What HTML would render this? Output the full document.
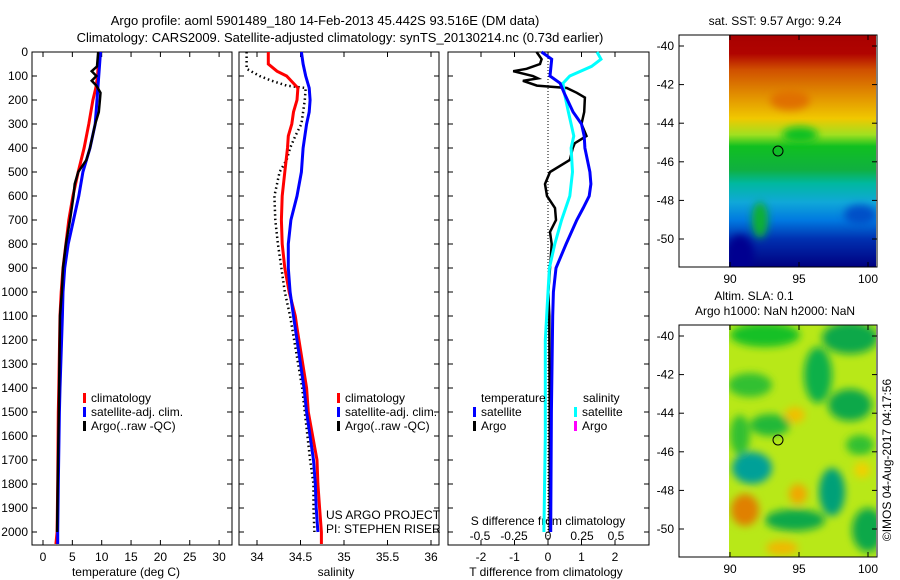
<!DOCTYPE html>
<html><head><meta charset="utf-8"><style>
html,body{margin:0;padding:0;background:#fff;}
svg{display:block;font-family:"Liberation Sans",sans-serif;font-size:12px;}
</style></head><body>
<svg id="c" width="900" height="580" viewBox="0 0 900 580">
<defs>
<linearGradient id="sstg" x1="0" y1="0" x2="0" y2="1">
<stop offset="0" stop-color="#a80000"/><stop offset="0.08" stop-color="#b00400"/>
<stop offset="0.15" stop-color="#d05000"/><stop offset="0.25" stop-color="#e08a00"/>
<stop offset="0.36" stop-color="#f0c800"/><stop offset="0.43" stop-color="#a0e020"/>
<stop offset="0.48" stop-color="#10c020"/><stop offset="0.58" stop-color="#10b040"/>
<stop offset="0.64" stop-color="#00b8a0"/><stop offset="0.72" stop-color="#10a8d8"/>
<stop offset="0.8" stop-color="#0078e0"/><stop offset="0.88" stop-color="#0030b0"/>
<stop offset="1" stop-color="#000080"/></linearGradient>
<filter id="bl" x="-50%" y="-50%" width="200%" height="200%"><feGaussianBlur stdDeviation="4"/></filter>
<clipPath id="m2c"><rect x="729" y="325" width="147" height="232"/></clipPath>
<clipPath id="m1c"><rect x="729" y="35" width="147" height="232"/></clipPath>
</defs>
<text x="325" y="25" text-anchor="middle" font-size="13">Argo profile: aoml 5901489_180 14-Feb-2013 45.442S 93.516E (DM data)</text>
<text x="340" y="42" text-anchor="middle" font-size="13">Climatology: CARS2009. Satellite-adjusted climatology: synTS_20130214.nc (0.73d earlier)</text>
<g id="panels"></g>
<g>
<text x="775" y="25" text-anchor="middle">sat. SST: 9.57 Argo: 9.24</text>
<g clip-path="url(#m1c)">
<rect x="729" y="35" width="147" height="232" fill="url(#sstg)"/>
<ellipse cx="740" cy="255" rx="14" ry="20" fill="#000090" filter="url(#bl)"/>
<ellipse cx="760" cy="220" rx="8" ry="18" fill="#10b030" filter="url(#bl)"/>
<ellipse cx="800" cy="135" rx="18" ry="8" fill="#10c020" filter="url(#bl)"/>
<ellipse cx="790" cy="100" rx="20" ry="10" fill="#e07000" filter="url(#bl)"/>
<ellipse cx="860" cy="215" rx="16" ry="10" fill="#0050c8" filter="url(#bl)"/>
</g>
<rect x="679" y="35" width="198" height="232" fill="none" stroke="#000"/>
<circle cx="778" cy="151" r="5" fill="none" stroke="#000"/>
</g>
<g>
<text x="754" y="300" text-anchor="middle">Altim. SLA: 0.1</text>
<text x="775" y="315" text-anchor="middle">Argo h1000: NaN h2000: NaN</text>
<g clip-path="url(#m2c)">
<rect x="729" y="325" width="147" height="232" fill="#b8e818"/>
<g filter="url(#bl)">
<ellipse cx="765" cy="335" rx="35" ry="12" fill="#18c028"/>
<ellipse cx="850" cy="338" rx="28" ry="16" fill="#10a848"/>
<ellipse cx="818" cy="375" rx="14" ry="28" fill="#10b048"/>
<ellipse cx="850" cy="405" rx="22" ry="16" fill="#10a848"/>
<ellipse cx="752" cy="468" rx="20" ry="16" fill="#00a098"/>
<ellipse cx="750" cy="385" rx="22" ry="12" fill="#30c030"/>
<ellipse cx="832" cy="492" rx="13" ry="24" fill="#00a078"/>
<ellipse cx="795" cy="520" rx="30" ry="11" fill="#10a848"/>
<ellipse cx="868" cy="530" rx="16" ry="22" fill="#10a848"/>
<ellipse cx="770" cy="425" rx="20" ry="11" fill="#20b838"/>
<ellipse cx="740" cy="435" rx="10" ry="20" fill="#30c030"/>
<ellipse cx="860" cy="445" rx="14" ry="10" fill="#30c030"/>
<ellipse cx="795" cy="415" rx="10" ry="8" fill="#f0c000"/>
<ellipse cx="745" cy="510" rx="14" ry="16" fill="#e08000"/>
<ellipse cx="798" cy="494" rx="9" ry="10" fill="#f0a800"/>
<ellipse cx="782" cy="548" rx="16" ry="7" fill="#f0b800"/>
<ellipse cx="862" cy="470" rx="8" ry="8" fill="#f0d000"/>
</g>
</g>
<rect x="679" y="325" width="198" height="232" fill="none" stroke="#000"/>
<circle cx="778" cy="440" r="5" fill="none" stroke="#000"/>
</g>
<text transform="translate(891,460) rotate(-90)" text-anchor="middle">©IMOS 04-Aug-2017 04:17:56</text>
</svg>
<script>
// depth levels (m)
const tClimDepth = [0,100,150,200,300,400,500,600,700,800,900,1000,1100,1400,1500,1800,2000,2050];
const tClim = [9.5,9.3,9.0,8.5,7.8,7.0,6.0,5.1,4.4,3.9,3.4,3.1,2.9,2.7,2.6,2.5,2.4,2.2];
const tSatDepth = [0,200,300,400,500,600,700,800,900,1000,1100,1400,1500,1800,2000,2050];
const tSat = [9.8,9.2,8.9,8.0,6.8,6.1,5.2,4.3,3.7,3.4,3.3,2.9,2.8,2.6,2.5,2.5];
const tArgoDepth = [0,60,80,100,120,140,170,200,250,300,400,450,500,550,600,700,800,900,1000,1100,1500,1800,2000];
const tArgo = [9.4,9.2,8.3,9.1,8.3,9.1,9.8,9.7,9.5,8.9,8.0,7.4,6.0,5.4,5.2,4.6,3.9,3.4,3.2,2.9,2.7,2.5,2.4];
const sClimDepth = [0,50,80,100,150,200,250,300,350,400,500,600,700,800,900,1000,1100,1150,1400,1500,1700,1800,1900,2000,2050];
const sClim = [34.13,34.13,34.23,34.34,34.47,34.46,34.42,34.40,34.36,34.35,34.32,34.29,34.28,34.29,34.32,34.37,34.44,34.46,34.57,34.59,34.69,34.70,34.72,34.74,34.74];
const sSatDepth = [0,50,100,150,200,250,300,400,500,600,700,800,900,1000,1100,1400,1500,1700,1800,1900,2000];
const sSat = [34.51,34.53,34.56,34.60,34.61,34.60,34.57,34.53,34.51,34.46,34.39,34.36,34.36,34.38,34.42,34.54,34.57,34.65,34.67,34.68,34.70];
const sArgoDepth = [0,70,100,120,140,150,200,300,350,400,450,500,600,700,800,900,1000,1100,1400,1500,1700,1800,1900,2000];
const sArgo = [33.88,33.88,34.03,34.17,34.34,34.56,34.55,34.51,34.44,34.38,34.34,34.26,34.20,34.21,34.24,34.28,34.32,34.38,34.52,34.55,34.61,34.65,34.65,34.66];
const dTSatDepth = [0,30,100,130,170,250,300,350,400,500,550,600,650,700,800,900,1000,1100,1500,2000];
const dTSat = [-0.19,0.11,0.06,0.36,0.48,0.75,1.0,1.08,1.1,1.25,1.28,1.23,1.05,0.86,0.54,0.24,0.16,0.14,0.1,0.08];
const dSSatDepth = [0,30,60,100,130,170,250,300,350,400,500,600,700,800,900,1000,1200,1600,2000];
const dSSat = [0.36,0.39,0.32,0.16,0.11,0.12,0.15,0.17,0.19,0.17,0.18,0.16,0.10,0.05,0.01,0,-0.02,-0.02,-0.03];
const dTArgoDepth = [0,30,50,70,80,100,110,120,140,150,170,190,250,300,350,380,400,450,500,550,600,650,700,750,800,900,1000,1100,1500,2000];
const dTArgo = [-0.34,-0.19,-0.24,-0.64,-1.04,-0.45,-0.3,-0.75,-0.33,0.56,0.86,1.1,1.08,1.0,1.15,0.8,0.74,0.65,0.06,-0.09,-0.03,0.21,0.24,0.06,0.11,0.06,0.01,0.04,0.05,0.05];
const depthTicks = [0,100,200,300,400,500,600,700,800,900,1000,1100,1200,1300,1400,1500,1600,1700,1800,1900,2000];
const tTicks = [0,5,10,15,20,25,30];
const sTicks = ["34","34.5","35","35.5","36"];
const dTTicks = [-2,-1,0,1,2];
const dSTicks = ["-0.5","-0.25","0","0.25","0.5"];
const latTicks = [-40,-42,-44,-46,-48,-50];
const lonTicks = [90,95,100];

const NS='http://www.w3.org/2000/svg';
const svg=document.getElementById('c');
const G=document.getElementById('panels');
const TOP=52,BOT=545;
const yD=d=>TOP+d*0.24;
const xT=v=>43+v*5.87;
const xS=v=>257+(v-34)*87;
const xDT=v=>548+v*33.5;
const xDS=v=>548+v*136;
const yLat1=l=>46+(-40-l)*19.3;
const yLat2=l=>336+(-40-l)*19.3;
const xLon=l=>730+(l-90)*13.8;
function mk(tag,attrs,parent){const e=document.createElementNS(NS,tag);for(const k in attrs)e.setAttribute(k,attrs[k]);(parent||G).appendChild(e);return e;}
function txt(x,y,s,anchor){const e=mk('text',{x:x,y:y,'text-anchor':anchor||'middle'});e.textContent=s;return e;}
function line(vals,depths,xf,color,w,dash){
  let d='';vals.forEach((v,i)=>{d+=(i?'L':'M')+xf(v).toFixed(1)+','+yD(depths[i]).toFixed(1);});
  const a={d:d,fill:'none',stroke:color,'stroke-width':w,'stroke-linejoin':'miter'};
  if(dash)a['stroke-dasharray']=dash;
  return mk('path',a);
}
function frame(x0,x1,name){
  const r=mk('rect',{x:x0,y:TOP,width:x1-x0,height:BOT-TOP,fill:'none',stroke:'#000'});
  
  
  depthTicks.forEach(d=>{
    mk('line',{x1:x0,x2:x0+5,y1:yD(d),y2:yD(d),stroke:'#000'});
    mk('line',{x1:x1,x2:x1-5,y1:yD(d),y2:yD(d),stroke:'#000'});
  });
}
function xticks(vals,xf,y,pre){
  vals.forEach(v=>{const x=xf(+v);
    mk('line',{x1:x,x2:x,y1:TOP,y2:TOP+5,stroke:'#000'});
    mk('line',{x1:x,x2:x,y1:BOT,y2:BOT-5,stroke:'#000'});
    const t=txt(x,y,String(v));
    
    
  });
}
// Panel 1
frame(32,232,'temperature-panel');
depthTicks.forEach(d=>{const t=txt(28,yD(d)+4,String(d),'end');
  
  });
xticks(tTicks,xT,561,'temperature');
let t=txt(126,576,'temperature (deg C)');


let p=line(tClim,tClimDepth,xT,'#ff0000',3);


p=line(tSat,tSatDepth,xT,'#0000ff',3);


p=line(tArgo,tArgoDepth,xT,'#000',2.5);


// Panel 2
frame(239,439,'salinity-panel');
xticks(sTicks,xS,561,'salinity');
t=txt(336,576,'salinity');


p=line(sArgo,sArgoDepth,xS,'#000',2.5,'1.5,3');


p=line(sClim,sClimDepth,xS,'#ff0000',3);


p=line(sSat,sSatDepth,xS,'#0000ff',3);


t=txt(326,519,'US ARGO PROJECT','start');


t=txt(326,533,'PI: STEPHEN RISER','start');


// Panel 3
frame(448,649,'difference-panel');
xticks(dTTicks,xDT,561,'t-difference');
dSTicks.forEach(v=>{const e=txt(xDS(+v),540,v);
  
  });
t=txt(548,525,'S difference from climatology');


t=txt(546,576,'T difference from climatology');


mk('line',{x1:548,x2:548,y1:TOP,y2:BOT,stroke:'#000','stroke-dasharray':'1,2'});
p=line(dTArgo,dTArgoDepth,xDT,'#000',2.5);


p=line(dSSat,dSSatDepth,xDS,'#00ffff',3);


p=line(dTSat,dTSatDepth,xDT,'#0000ff',3);


// legends
function leg(x,y,color,label){
  const r=mk('rect',{x:x,y:y-9,width:3,height:10,fill:color});
  
  
  const e=txt(x+8,y,label,'start');
  
  
}
leg(83,402,'#ff0000','climatology');leg(83,416,'#0000ff','satellite-adj. clim.');leg(83,430,'#000','Argo(..raw -QC)');
leg(337,402,'#ff0000','climatology');leg(337,416,'#0000ff','satellite-adj. clim.');leg(337,430,'#000','Argo(..raw -QC)');
t=txt(481,402,'temperature','start');


t=txt(583,402,'salinity','start');


leg(473,416,'#0000ff','satellite');leg(473,430,'#000','Argo');
leg(574,416,'#00ffff','satellite');leg(574,430,'#ff00ff','Argo');
// map ticks
function mapTicks(yf,top,bot){
  latTicks.forEach(l=>{const y=yf(l);
    mk('line',{x1:679,x2:684,y1:y,y2:y,stroke:'#000'},svg);
    mk('line',{x1:877,x2:872,y1:y,y2:y,stroke:'#000'},svg);
    const e=txt(674,y+4,String(l),'end');svg.appendChild(e);
    
    });
  lonTicks.forEach(l=>{const x=xLon(l);
    mk('line',{x1:x,x2:x,y1:top,y2:top+5,stroke:'#000'},svg);
    mk('line',{x1:x,x2:x,y1:bot,y2:bot-5,stroke:'#000'},svg);
    const e=txt(x,bot+16,String(l));svg.appendChild(e);
    
    });
}
mapTicks(yLat1,35,267);
mapTicks(yLat2,325,557);
</script>
</body></html>
